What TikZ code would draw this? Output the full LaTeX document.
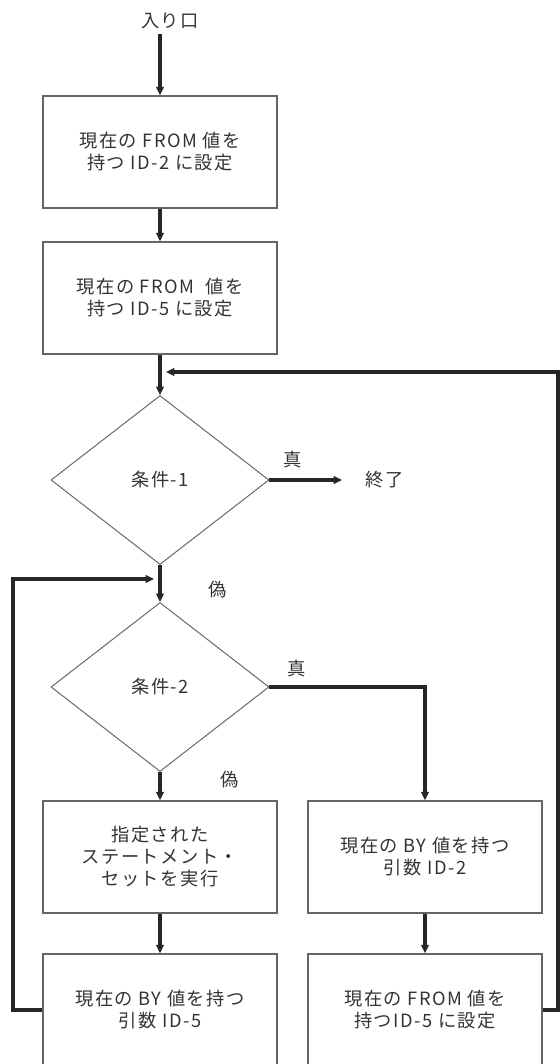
\documentclass[tikz,border=0pt]{standalone}
\usepackage{fontspec}
\setmainfont[LetterSpace=8]{Noto Sans CJK JP}
\usetikzlibrary{arrows.meta,shapes.geometric}

\begin{document}
\begin{tikzpicture}[
    font=\fontsize{13}{15.6}\selectfont,
    every node/.style={text=black!80},
    box/.style={draw=black!60, line width=1.1pt, minimum height=2.8cm,
                minimum width=5.85cm, align=center},
    cond/.style={draw=black!60, line width=0.7pt, diamond,
                 minimum width=5.45cm, minimum height=4.225cm, inner sep=0pt},
    flow/.style={-{Triangle[length=6pt,width=5.5pt]}, line width=2.2pt,
                 black!85},
    note/.style={align=center},
]
    \useasboundingbox (0,0) rectangle (14,-26.6);
    \node[note] (entry) at (4.25,-0.525) {入り口};
    \node[box] (fromid2) at (4,-3.8) {現在の FROM 値を\\持つ ID-2 に設定};
    \node[box] (fromid5) at (4,-7.45) {現在の FROM\ \ 値を\\持つ ID-5 に設定};
    \node[cond] (cond1) at (4,-12) {条件-1};
    \node[note] (true1) at (7.325,-11.5) {真};
    \node[note] (done) at (9.625,-12) {終了};
    \node[note] (false1) at (5.45,-14.75) {偽};
    \node[cond] (cond2) at (4,-17.175) {条件-2};
    \node[note] (true2) at (7.425,-16.725) {真};
    \node[note] (false2) at (5.75,-19.5) {偽};
    \node[box] (runstmt) at (4,-21.425) {指定された\\ステートメント・\\セットを実行};
    \node[box] (byid2) at (10.625,-21.425) {現在の BY 値を持つ\\引数 ID-2};
    \node[box] (byid5) at (4,-25.25) {現在の BY 値を持つ\\引数 ID-5};
    \node[box] (fromid5b) at (10.625,-25.25) {現在の FROM 値を\\持つID-5 に設定};
    \coordinate (join1) at (4,-9.3);
    \coordinate (join2) at (4,-14.475);
    \coordinate (leftrail) at (0.325,0);
    \coordinate (rightrail) at (13.95,0);

    \draw[flow] (entry.south -| fromid2.north) -- (fromid2.north);
    \draw[flow] (fromid2.south) -- (fromid5.north);
    \draw[flow] (fromid5.south) -- (cond1.north);
    \draw[flow, shorten >=0.475cm] (cond1.east) -- (done.west);
    \draw[flow] (cond1.south) -- (cond2.north);
    \draw[flow] (cond2.south) -- (runstmt.north);
    \draw[flow] (cond2.east) -| (byid2.north);
    \draw[flow] (runstmt.south) -- (byid5.north);
    \draw[flow] (byid2.south) -- (fromid5b.north);
    \draw[flow, shorten >=0.15cm] (byid5.west) -- (leftrail |- byid5.west)
        |- (join2);
    \draw[flow, shorten >=0.15cm] (fromid5b.east)
        -- (rightrail |- fromid5b.east) |- (join1);
\end{tikzpicture}
\end{document}
